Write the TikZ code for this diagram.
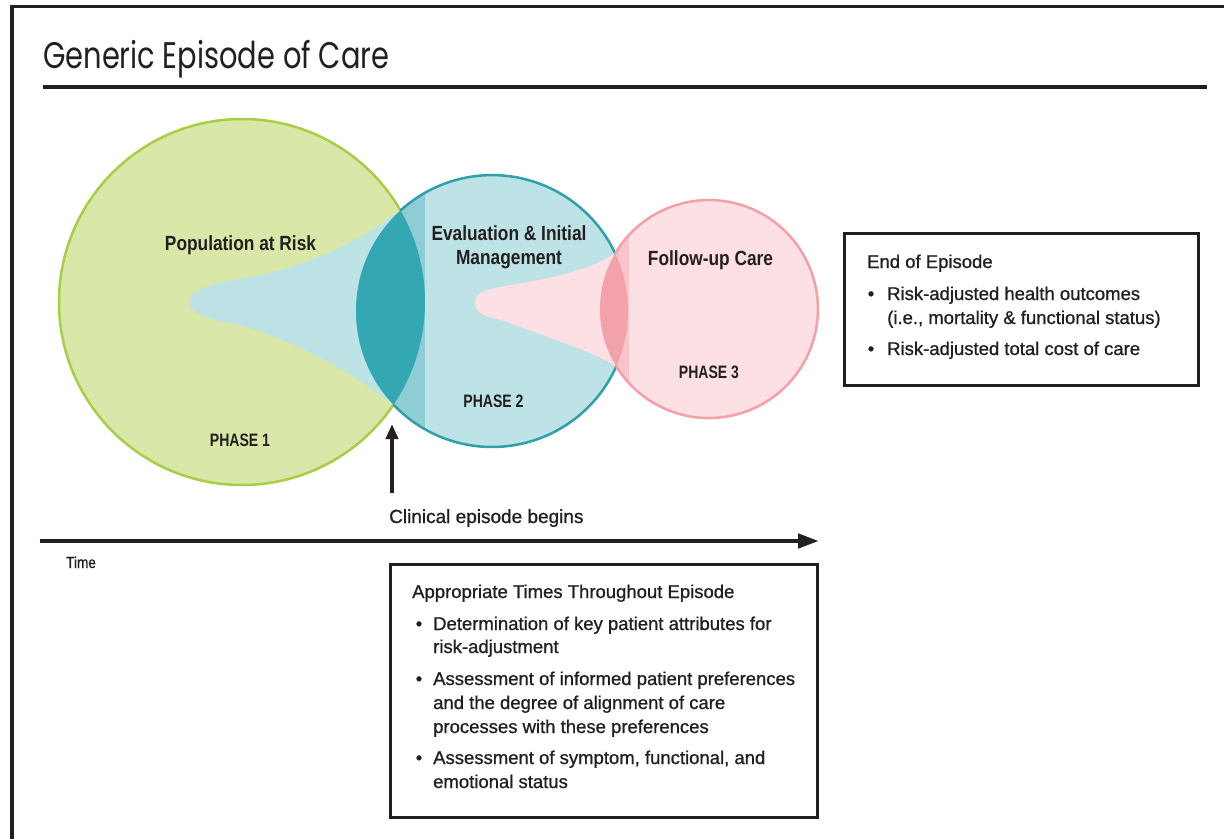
\documentclass[tikz,border=0pt]{standalone}
\usepackage{fontspec}
\setmainfont{Liberation Sans}
\newfontfamily\titlefam[FakeStretch=0.78]{Poppins}
\newfontfamily\labelfam[FakeStretch=0.845]{Liberation Sans}
\newfontfamily\phasefam[FakeStretch=0.78]{Liberation Sans}
\newfontfamily\bodyfam[FakeBold=0.9]{Liberation Sans}
\newfontfamily\smallfam[FakeStretch=0.85,FakeBold=0.8]{Liberation Sans}
\usetikzlibrary{arrows.meta}

\definecolor{ink}{RGB}{35,31,32}
\definecolor{grnfill}{RGB}{217,232,168}
\definecolor{grnline}{RGB}{168,206,70}
\definecolor{tealfill}{RGB}{189,227,230}
\definecolor{tealmid}{RGB}{141,205,211}
\definecolor{tealdark}{RGB}{52,168,178}
\definecolor{tealline}{RGB}{46,160,171}
\definecolor{pinkfill}{RGB}{253,224,227}
\definecolor{pinkmid}{RGB}{249,196,201}
\definecolor{pinkdark}{RGB}{244,162,169}
\definecolor{pinkline}{RGB}{244,160,166}

\tikzset{
  lbl/.style={font=\labelfam\bfseries\fontsize{20.5}{24}\selectfont, text=ink, inner sep=0pt, anchor=base},
  phaselbl/.style={font=\phasefam\bfseries\fontsize{18}{22}\selectfont, text=ink, inner sep=0pt, anchor=base},
  body/.style={font=\bodyfam\fontsize{18.5}{22}\selectfont, text=ink, inner sep=0pt, anchor=base west},
  bul/.style={font=\bodyfam\fontsize{18.5}{22}\selectfont, text=ink, inner sep=0pt, anchor=base},
  infobox/.style={draw=ink, line width=3pt, inner sep=0pt, anchor=north west},
  ring/.style={line width=2.5pt},
}

\begin{document}
\begin{tikzpicture}[x=1pt,y=-1pt]
\useasboundingbox (0,0) rectangle (1224,839);
\fill[white] (0,0) rectangle (1224,839);

% page frame and title rule
\draw[ink, line width=3.5pt] (12,839) -- (12,6.5) -- (1224,6.5);
\node[font=\titlefam\fontsize{37}{40}\selectfont, text=ink, inner sep=0pt, anchor=base west] (title) at (43,68) {Generic Episode of Care};
\draw[ink, line width=4pt] (43,87) -- (1207,87);

% circle centres
\coordinate (gC) at (242,302);
\coordinate (tC) at (492,311);
\coordinate (pC) at (709,309);

% phase 1
\path[fill=grnfill, draw=grnline, ring] (gC) circle[radius=183];
\fill[tealfill] (189,302) .. controls (190,290) and (210,284) .. (240,279)
  .. controls (290,270) and (340,255) .. (400.5,210.5) -- (393.5,404.7)
  .. controls (340,364) and (290,340) .. (240,325)
  .. controls (210,320) and (190,314) .. (189,302) -- cycle;

% phase 2
\fill[tealfill] (tC) circle[radius=136];
\begin{scope}
  \clip (tC) circle[radius=136];
  \fill[tealmid] (300,150) rectangle (425,470);
  \clip (gC) circle[radius=183];
  \fill[tealdark] (300,100) rectangle (500,500);
\end{scope}
\fill[pinkfill] (475,303) .. controls (475,292) and (488,289) .. (505,286)
  .. controls (550,279) and (590,270) .. (615.2,253.4) -- (616.3,366.3)
  .. controls (590,350) and (550,339) .. (505,321)
  .. controls (488,317) and (475,314) .. (475,303) -- cycle;

% phase 3
\fill[pinkfill] (pC) circle[radius=109];
\begin{scope}
  \clip (pC) circle[radius=109];
  \fill[pinkmid] (590,190) rectangle (629,430);
  \clip (tC) circle[radius=136];
  \fill[pinkdark] (590,190) rectangle (700,430);
\end{scope}

% outlines where the circles do not overlap
\draw[tealline, ring] (400.5,210.5) arc[start angle=-132.3, end angle=-25.1, radius=136];
\draw[tealline, ring] (616.3,366.3) arc[start angle=24.0, end angle=136.4, radius=136];
\draw[pinkline, ring] (615.2,253.4) arc[start angle=-149.3, end angle=148.3, radius=109];

% circle labels
\node[lbl] (pop) at (240.5,250) {Population at Risk};
\node[phaselbl] (ph1) at (240,446.5) {PHASE 1};
\node[lbl] (eval) at (509,240) {Evaluation \& Initial};
\node[lbl] (mgmt) at (509,264) {Management};
\node[phaselbl] (ph2) at (493.5,407) {PHASE 2};
\node[lbl] (fup) at (710.5,265.5) {Follow-up Care};
\node[phaselbl] (ph3) at (709,378) {PHASE 3};

% clinical episode marker
\node[body, font=\bodyfam\fontsize{19}{22}\selectfont] (clin) at (389,523) {Clinical episode begins};
\coordinate (cbtail) at (392,493);
\coordinate (cbtip) at (392,424);
\draw[ink, line width=4.5pt, -{Triangle[length=15pt,width=12pt]}] (cbtail) -- (cbtip);

% time axis
\coordinate (t0) at (40,541);
\coordinate (t1) at (819,541);
\draw[ink, line width=4.5pt, -{Triangle[length=21pt,width=14pt]}] (t0) -- (t1);
\node[body, font=\smallfam\fontsize{16}{18}\selectfont] (time) at (66,568) {Time};

% end of episode box
\node[infobox, minimum width=354pt, minimum height=152pt] (endbox) at (843,232) {};
\node[body] (endttl) at (867,268) {End of Episode};
\node[bul] (eb1) at (871,300) {•};
\node[body] (e1a) at (887,300) {Risk-adjusted health outcomes};
\node[body] (e1b) at (887,324) {(i.e., mortality \& functional status)};
\node[bul] (eb2) at (871,355) {•};
\node[body] (e2a) at (887,355) {Risk-adjusted total cost of care};

% throughout-episode box
\node[infobox, minimum width=427pt, minimum height=253pt] (apbox) at (389,563) {};
\node[body] (apttl) at (412,598) {Appropriate Times Throughout Episode};
\node[bul] (ab1) at (419,630) {•};
\node[body] (a1a) at (433,630) {Determination of key patient attributes for};
\node[body] (a1b) at (433,653) {risk-adjustment};
\node[bul] (ab2) at (419,685) {•};
\node[body] (a2a) at (433,685) {Assessment of informed patient preferences};
\node[body] (a2b) at (433,709) {and the degree of alignment of care};
\node[body] (a2c) at (433,733) {processes with these preferences};
\node[bul] (ab3) at (419,764) {•};
\node[body] (a3a) at (433,764) {Assessment of symptom, functional, and};
\node[body] (a3b) at (433,788) {emotional status};
\end{tikzpicture}
\end{document}
